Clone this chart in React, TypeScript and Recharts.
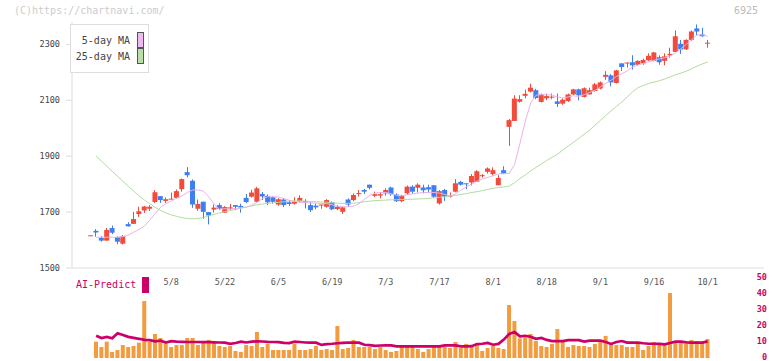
import React from 'react';
import { ComposedChart, Bar, Line, XAxis, YAxis } from 'recharts';

const dates = [
  '4/14', '4/15', '4/16', '4/17', '4/18', '4/21', '4/22', '4/23', '4/24', '4/25',
  '4/28', '4/30', '5/1', '5/2', '5/7', '5/8', '5/9', '5/12', '5/13', '5/14',
  '5/15', '5/16', '5/19', '5/20', '5/21', '5/22', '5/23', '5/26', '5/27', '5/28',
  '5/29', '5/30', '6/2', '6/3', '6/4', '6/5', '6/6', '6/9', '6/10', '6/11',
  '6/12', '6/13', '6/16', '6/17', '6/18', '6/19', '6/20', '6/23', '6/24', '6/25',
  '6/26', '6/27', '6/30', '7/1', '7/2', '7/3', '7/4', '7/7', '7/8', '7/9',
  '7/10', '7/11', '7/14', '7/15', '7/16', '7/17', '7/18', '7/22', '7/23', '7/24',
  '7/25', '7/28', '7/29', '7/30', '7/31', '8/1', '8/4', '8/5', '8/6', '8/7',
  '8/8', '8/12', '8/13', '8/14', '8/15', '8/18', '8/19', '8/20', '8/21', '8/22',
  '8/25', '8/26', '8/27', '8/28', '8/29', '9/1', '9/2', '9/3', '9/4', '9/5',
  '9/8', '9/9', '9/10', '9/11', '9/12', '9/16', '9/17', '9/18', '9/19', '9/22',
  '9/24', '9/25', '9/26', '9/29', '9/30', '10/1',
];

const open = [
  1617, 1633, 1608, 1598, 1643, 1611, 1587, 1657, 1658, 1693,
  1706, 1712, 1736, 1757, 1740, 1746, 1751, 1782, 1843, 1812,
  1712, 1737, 1700, 1709, 1725, 1698, 1712, 1725, 1722, 1751,
  1755, 1737, 1765, 1758, 1753, 1727, 1745, 1735, 1730, 1739,
  1739, 1725, 1723, 1725, 1719, 1735, 1711, 1701, 1745, 1743,
  1766, 1779, 1798, 1758, 1759, 1767, 1788, 1763, 1739, 1767,
  1791, 1787, 1788, 1789, 1796, 1731, 1779, 1756, 1773, 1808,
  1803, 1806, 1808, 1830, 1844, 1836, 1796, 1850, 2005, 2026,
  2095, 2116, 2131, 2136, 2094, 2107, 2111, 2096, 2088, 2097,
  2121, 2139, 2112, 2121, 2133, 2142, 2184, 2189, 2162, 2232,
  2233, 2236, 2227, 2232, 2243, 2241, 2254, 2241, 2261, 2273,
  2302, 2282, 2316, 2357, 2336, 2304,
];

const high = [
  1618, 1639, 1614, 1643, 1652, 1613, 1618, 1664, 1701, 1719,
  1722, 1725, 1779, 1757, 1752, 1770, 1781, 1820, 1861, 1817,
  1745, 1737, 1700, 1727, 1732, 1721, 1729, 1725, 1730, 1765,
  1780, 1790, 1772, 1763, 1756, 1750, 1750, 1743, 1753, 1760,
  1746, 1735, 1730, 1727, 1746, 1738, 1725, 1719, 1749, 1767,
  1779, 1783, 1798, 1773, 1771, 1785, 1791, 1767, 1762, 1795,
  1796, 1803, 1798, 1798, 1796, 1779, 1783, 1770, 1818, 1812,
  1803, 1836, 1850, 1836, 1860, 1860, 1832, 1864, 2033, 2118,
  2118, 2138, 2159, 2141, 2124, 2124, 2124, 2124, 2107, 2124,
  2141, 2141, 2146, 2145, 2162, 2167, 2204, 2193, 2209, 2232,
  2235, 2261, 2243, 2249, 2268, 2273, 2261, 2268, 2288, 2350,
  2316, 2318, 2350, 2371, 2359, 2316,
];

const low = [
  1616, 1612, 1594, 1598, 1621, 1585, 1584, 1648, 1658, 1683,
  1697, 1704, 1733, 1733, 1733, 1746, 1748, 1773, 1824, 1715,
  1705, 1676, 1656, 1698, 1707, 1698, 1706, 1707, 1698, 1732,
  1752, 1735, 1743, 1725, 1730, 1722, 1718, 1722, 1727, 1735,
  1713, 1700, 1710, 1712, 1716, 1707, 1707, 1693, 1720, 1739,
  1756, 1765, 1781, 1754, 1749, 1759, 1759, 1736, 1735, 1762,
  1766, 1770, 1767, 1770, 1751, 1727, 1740, 1752, 1771, 1795,
  1782, 1795, 1808, 1823, 1838, 1832, 1796, 1836, 1937, 2026,
  2092, 2107, 2128, 2104, 2092, 2100, 2104, 2076, 2084, 2094,
  2119, 2100, 2110, 2121, 2131, 2139, 2173, 2150, 2160, 2205,
  2217, 2210, 2225, 2227, 2241, 2239, 2227, 2225, 2252, 2273,
  2266, 2280, 2313, 2332, 2327, 2288,
];

const close = [
  1617, 1627, 1598, 1636, 1626, 1594, 1614, 1649, 1675, 1703,
  1720, 1719, 1771, 1743, 1746, 1748, 1775, 1818, 1832, 1727,
  1729, 1701, 1688, 1716, 1712, 1718, 1717, 1719, 1716, 1736,
  1770, 1785, 1756, 1735, 1737, 1746, 1725, 1729, 1737, 1751,
  1735, 1707, 1717, 1727, 1743, 1710, 1719, 1717, 1727, 1761,
  1768, 1773, 1787, 1764, 1764, 1779, 1764, 1739, 1758, 1791,
  1773, 1798, 1778, 1781, 1755, 1775, 1755, 1758, 1803, 1798,
  1800, 1829, 1846, 1832, 1856, 1850, 1822, 1836, 2029, 2106,
  2104, 2123, 2145, 2108, 2121, 2115, 2113, 2087, 2102, 2121,
  2139, 2118, 2143, 2136, 2157, 2164, 2191, 2164, 2207, 2219,
  2235, 2225, 2241, 2244, 2259, 2271, 2236, 2257, 2266, 2329,
  2282, 2316, 2346, 2346, 2329, 2306,
];

const ma5 = [
  null, 1610, 1610, 1610, 1610, 1610, 1612, 1618, 1628, 1638,
  1650, 1671, 1695, 1717, 1730, 1740, 1750, 1758, 1770, 1779,
  1779, 1775, 1755, 1728, 1710, 1712, 1711, 1713, 1715, 1717,
  1725, 1735, 1748, 1755, 1755, 1754, 1748, 1742, 1738, 1735,
  1734, 1733, 1732, 1731, 1730, 1726, 1721, 1719, 1719, 1721,
  1730, 1745, 1760, 1768, 1770, 1770, 1766, 1760, 1758, 1762,
  1765, 1768, 1770, 1770, 1770, 1768, 1763, 1757, 1765, 1779,
  1790, 1800, 1810, 1818, 1824, 1830, 1836, 1838, 1838, 1870,
  1945, 2025, 2090, 2118, 2120, 2120, 2118, 2112, 2108, 2112,
  2116, 2114, 2120, 2128, 2135, 2148, 2160, 2172, 2185, 2195,
  2205, 2219, 2226, 2232, 2237, 2243, 2248, 2252, 2258, 2270,
  2284, 2300, 2316, 2334, 2334, 2329,
];

const ma25 = [
  null, 1900, 1882, 1864, 1846, 1828, 1810, 1792, 1775, 1758,
  1743, 1730, 1717, 1706, 1697, 1690, 1685, 1680, 1677, 1676,
  1677, 1681, 1687, 1692, 1697, 1702, 1706, 1710, 1714, 1718,
  1722, 1726, 1729, 1731, 1733, 1735, 1737, 1739, 1740, 1740,
  1739, 1738, 1737, 1736, 1735, 1733, 1732, 1731, 1731, 1732,
  1734, 1737, 1739, 1741, 1742, 1743, 1744, 1744, 1745, 1745,
  1746, 1747, 1748, 1749, 1751, 1753, 1755, 1757, 1760, 1763,
  1766, 1770, 1773, 1777, 1781, 1785, 1788, 1790, 1793, 1805,
  1820, 1833, 1847, 1860, 1872, 1885, 1896, 1907, 1922, 1936,
  1950, 1964, 1979, 1993, 2011, 2028, 2045, 2062, 2078, 2094,
  2112, 2130, 2145, 2153, 2160, 2165, 2170, 2176, 2184, 2191,
  2197, 2204, 2213, 2222, 2230, 2237,
];

const volume = [
  null, 10.2, 6.9, 10.2, 3.8, 5, 8.1, 6.9, 7.5, 9.6,
  35.6, 10.2, 15, 12.5, 8.8, 6.9, 8.1, 8.1, 12.5, 12.5,
  8.1, 10.6, 11.3, 10.2, 7.5, 6.9, 7.5, 4.4, 3.8, 8.1,
  7.5, 16.3, 6.9, 8.8, 5, 5, 5, 5, 8.8, 5,
  5, 5.6, 7.5, 5, 5.6, 5, 20, 5.6, 6.3, 11.3,
  6.9, 6.9, 6.9, 5.6, 6.9, 5, 3.8, 4.4, 6.9, 6.9,
  6.9, 5.6, 3.8, 5.6, 6.9, 6.9, 6.9, 6.3, 10, 6.3,
  8.8, 7.5, 8.1, 4.4, 6.3, 7.5, 6.3, 5.6, 33.1, 23.1,
  12.3, 12.5, 15, 10.6, 7.5, 6.9, 8.8, 18.1, 11.3, 6.9,
  8.1, 7.5, 7.5, 6.9, 8.8, 10, 13.8, 8.8, 8.1, 8.1,
  6.9, 6.9, 8.8, 5, 7.5, 10, 8.8, 8.8, 40.6, 10.6,
  10, 8.8, 11.3, 10.6, 10, 11.9,
];

const aiPredict = [
  null, 13.9, 12.5, 13.2, 12.3, 15.5, 14.4, 13.2, 12.6, 12,
  11.3, 11.2, 10.4, 10.8, 9.7, 10.5, 10.2, 10.1, 10, 10,
  10, 9.9, 9.9, 9.8, 9.7, 9.6, 8.8, 9.4, 10.2, 9.7,
  10.2, 10.4, 10.3, 10.1, 10, 9.9, 9.4, 9.3, 10.2, 10,
  9.7, 9.6, 9.6, 8.2, 8.7, 8.9, 9.2, 9.5, 9.6, 9.6,
  9.6, 8.3, 8, 7.6, 7.8, 7.9, 7.9, 7.3, 7.3, 7.3,
  7.3, 7.3, 7.3, 7.3, 7.3, 7.3, 7.9, 7.9, 7.9, 7.3,
  7.3, 7.4, 8.7, 8.9, 9.4, 8.3, 8.8, 11.5, 15, 16.2,
  13.5, 13.8, 13.3, 12, 12.5, 11.3, 10.6, 10.6, 10.6, 11.2,
  11.2, 11.2, 10.3, 10.8, 10.8, 10.8, 10, 8.8, 10, 10.6,
  9.6, 9.6, 9.6, 9.2, 8.9, 8.9, 8.8, 8.5, 9.4, 10.2,
  10.2, 9.8, 9.6, 9.6, 9.6, 10.4,
];

const dateTicks = ['5/8', '5/22', '6/5', '6/19', '7/3', '7/17', '8/1', '8/18', '9/1', '9/16', '10/1'];
const priceTicks = [1500, 1700, 1900, 2100, 2300];
const volumeTicks = [0, 10, 20, 30, 40, 50];
const gridTicks = [0, 1, 2, 3, 4, 5, 6, 7, 8, 9, 10, 11];

const padBefore = ['_a', '_b', '_c'];
const padAfter = ['_0', '_1', '_2', '_3', '_4', '_5', '_6', '_7', '_8', '_9'];

const RED = '#f04b3b';
const BLUE = '#3f7ef0';
const FONT = "'DejaVu Sans Mono', 'Liberation Mono', monospace";

const rows = [
  ...padBefore.map((d) => ({ d })),
  ...dates.map((d, i) => ({
    d,
    o: open[i],
    h: high[i],
    l: low[i],
    c: close[i],
    ma5: ma5[i],
    ma25: ma25[i],
    v: volume[i],
    ai: aiPredict[i],
  })),
  ...padAfter.map((d) => ({ d })),
];

const Candle = (props: any) => {
  const { x, y, width, height, payload } = props;
  if (!payload || payload.o == null) return null;
  const { o, h, l, c } = payload;
  const k = h === l ? 0 : height / (h - l);
  const yOf = (v: number) => y + (h - v) * k;
  const color = c >= o ? RED : BLUE;
  const top = yOf(Math.max(o, c));
  const bot = yOf(Math.min(o, c));
  const cx = Math.floor(x + width / 2) + 0.5;
  return (
    <g>
      <line x1={cx} x2={cx} y1={y} y2={y + height} stroke={color} strokeWidth={1} />
      <rect x={x} y={top} width={width} height={Math.max(bot - top, 1)} fill={color} />
    </g>
  );
};

// right-aligned labels for the volume axis, just past the plot edge
const VolTick = (props: any) => {
  const { x, y, payload } = props;
  return (
    <text x={x + 3} y={y} dy={2} textAnchor="end" fill="#cc0066" fontSize={8.5} fontWeight="bold" fontFamily={FONT}>
      {payload.value}
    </text>
  );
};

export default function App() {
  return (
    <div style={{ position: 'absolute', left: 0, top: 0, width: 772, height: 361, background: '#fff', fontFamily: FONT }}>
      <div style={{ position: 'absolute', left: 0, top: 0 }}>
        <ComposedChart width={772} height={293} data={rows} margin={{ top: 22, right: 8, bottom: 0, left: 0 }}>
          <XAxis
            xAxisId={0}
            type="number"
            domain={[0, 11]}
            ticks={gridTicks}
            tick={false}
            tickSize={5}
            height={5}
            axisLine={{ stroke: '#ddd' }}
            tickLine={{ stroke: '#ddd' }}
          />
          <XAxis
            xAxisId="lbl"
            dataKey="d"
            type="category"
            ticks={dateTicks}
            interval={0}
            height={20}
            axisLine={false}
            tickLine={false}
            tickSize={0}
            tickMargin={6}
            tick={{ fill: '#555', fontSize: 8.5, fontFamily: FONT }}
          />
          <YAxis
            domain={[1500, 2380]}
            ticks={priceTicks}
            width={72}
            tickSize={6}
            tickMargin={6}
            axisLine={{ stroke: '#ddd' }}
            tickLine={{ stroke: '#ddd' }}
            tick={{ fill: '#444', fontSize: 8.5, fontFamily: FONT }}
          />
          <Line xAxisId="lbl" dataKey="ma25" stroke="#b3dca0" strokeWidth={1} dot={false} isAnimationActive={false} />
          <Line xAxisId="lbl" dataKey="ma5" stroke="#e8b4e8" strokeWidth={1} dot={false} isAnimationActive={false} />
          <Bar
            xAxisId="lbl"
            dataKey={(r: any) => (r.o == null ? null : [r.l, r.h])}
            barSize={5}
            shape={<Candle />}
            isAnimationActive={false}
          />
        </ComposedChart>
      </div>

      <div style={{ position: 'absolute', left: 0, top: 0 }}>
        <ComposedChart width={772} height={361} data={rows} margin={{ top: 278, right: 0, bottom: 3, left: 72 }}>
          <XAxis dataKey="d" type="category" hide />
          <YAxis
            orientation="right"
            domain={[0, 50]}
            ticks={volumeTicks}
            width={8}
            axisLine={false}
            tickLine={false}
            tickSize={0}
            tickMargin={0}
            interval={0}
            tick={<VolTick />}
          />
          <Bar dataKey="v" fill="#f39c3f" isAnimationActive={false} />
          <Line dataKey="ai" stroke="#cc0066" strokeWidth={2.7} dot={false} isAnimationActive={false} />
        </ComposedChart>
      </div>

      <div style={{ position: 'absolute', left: 14, top: 5, fontSize: 10, color: '#ccc' }}>(C)https://chartnavi.com/</div>
      <div style={{ position: 'absolute', left: 734, top: 5, fontSize: 10, color: '#bbb' }}>6925</div>

      <div
        style={{
          position: 'absolute',
          left: 70,
          top: 24,
          width: 77,
          height: 47,
          border: '1px solid #ddd',
          background: '#fff',
          fontSize: 10,
          color: '#444',
        }}
      >
        <div style={{ position: 'absolute', right: 18, top: 10 }}>5-day MA</div>
        <div style={{ position: 'absolute', right: 18, top: 26 }}>25-day MA</div>
        <div style={{ position: 'absolute', left: 66, top: 7, width: 5, height: 14, background: '#eebbee', border: '1px solid #555' }} />
        <div style={{ position: 'absolute', left: 66, top: 23, width: 5, height: 14, background: '#bbddaa', border: '1px solid #555' }} />
      </div>

      <div style={{ position: 'absolute', left: 76, top: 279, fontSize: 10, color: '#cc0066' }}>AI-Predict</div>
      <div style={{ position: 'absolute', left: 142, top: 277, width: 7, height: 16, background: '#cc0066' }} />
    </div>
  );
}
